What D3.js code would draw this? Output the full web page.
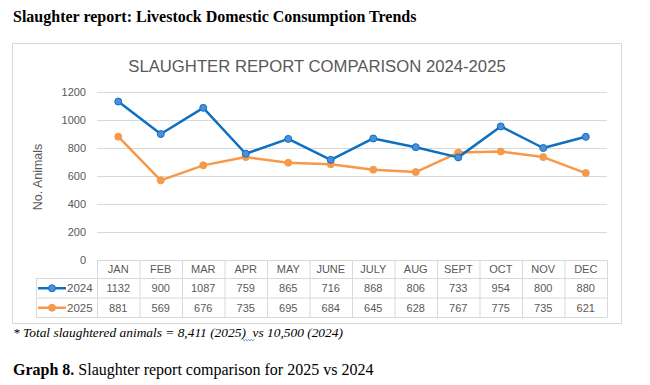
<!DOCTYPE html>
<html><head><meta charset="utf-8">
<script src="https://cdn.jsdelivr.net/npm/d3@7"></script>
<style>html,body{margin:0;padding:0;background:#fff;}</style>
</head><body>
<svg id="c" width="650" height="385"></svg>
<script>
const months = ["JAN","FEB","MAR","APR","MAY","JUNE","JULY","AUG","SEPT","OCT","NOV","DEC"];
const values2024 = [1132,900,1087,759,865,716,868,806,733,954,800,880];
const values2025 = [881,569,676,735,695,684,645,628,767,775,735,621];
const seriesNames = ["2024","2025"];
const yTicks = [0,200,400,600,800,1000,1200];
const docTitle = "Slaughter report: Livestock Domestic Consumption Trends";
const chartTitle = "SLAUGHTER REPORT COMPARISON 2024-2025";
const yLabel = "No. Animals";
const footnote = "* Total slaughtered animals = 8,411 (2025)  vs 10,500 (2024)";

const svg = d3.select("#c");
const gray = "#595959", grid = "#d9d9d9";
const colors = {"2024": {line:"#0f6fc1", fill:"#4a8fd8"}, "2025": {line:"#f6994a", fill:"#f6994a"}};
const sans = "'Liberation Sans', Arial, sans-serif";
const serif = "'Liberation Serif', 'Times New Roman', serif";

// doc title
svg.append("text").attr("x",13).attr("y",22).attr("font-family",serif).attr("font-weight","bold")
  .attr("font-size",16).attr("fill","#000").text(docTitle);

// chart frame
svg.append("rect").attr("x",12.5).attr("y",43.5).attr("width",609).attr("height",280)
  .attr("fill","#fff").attr("stroke","#d9d9d9");

svg.append("text").attr("x",317).attr("y",72).attr("text-anchor","middle").attr("font-family",sans)
  .attr("font-size",16.7).attr("fill",gray).text(chartTitle);

const x0 = 97, x1 = 607;
const x = d3.scaleBand().domain(months).range([x0,x1]).padding(0);
const y = d3.scaleLinear().domain([0,1200]).range([260,92]);

// grid
svg.append("g").selectAll("line").data(yTicks.filter(d=>d>0)).join("line")
  .attr("x1",x0).attr("x2",x1).attr("y1",d=>Math.round(y(d))+0.5).attr("y2",d=>Math.round(y(d))+0.5)
  .attr("stroke",grid).attr("stroke-width",1);

// y axis labels
const ya = svg.append("g").attr("transform",`translate(${x0},0)`)
  .call(d3.axisLeft(y).tickValues(yTicks).tickFormat(d3.format("d")).tickSize(0).tickPadding(11));
ya.select(".domain").remove();
ya.selectAll("text").attr("font-family",sans).attr("font-size",11).attr("fill",gray);

svg.append("text").attr("transform","translate(42,177) rotate(-90)").attr("text-anchor","middle")
  .attr("font-family",sans).attr("font-size",12.5).attr("fill",gray).text(yLabel);

// data table
const rowY = [260, 278.5, 298, 317.5];
const tbl = svg.append("g").attr("stroke",grid).attr("stroke-width",1).attr("fill","none");
tbl.append("line").attr("x1",x0).attr("x2",x1).attr("y1",rowY[0]+0.5).attr("y2",rowY[0]+0.5);
[1,2,3].forEach(i=>tbl.append("line").attr("x1",36).attr("x2",x1).attr("y1",rowY[i]).attr("y2",rowY[i]));
const bounds = months.map(m=>x(m)).concat([x1]);
bounds.forEach(b=>tbl.append("line").attr("x1",b+0.5).attr("x2",b+0.5).attr("y1",rowY[0]).attr("y2",rowY[3]));
tbl.append("line").attr("x1",36.5).attr("x2",36.5).attr("y1",rowY[1]).attr("y2",rowY[3]);

const cx = m => x(m)+x.bandwidth()/2;
svg.append("g").selectAll("text").data(months).join("text")
  .attr("x",cx).attr("y",(rowY[0]+rowY[1])/2+4).attr("text-anchor","middle")
  .attr("font-family",sans).attr("font-size",11).attr("fill",gray).text(d=>d);

const seriesData = {"2024": values2024, "2025": values2025};
seriesNames.forEach((s,i)=>{
  const yy = (rowY[i+1]+rowY[i+2])/2;
  svg.append("g").selectAll("text").data(seriesData[s]).join("text")
    .attr("x",(d,j)=>cx(months[j])).attr("y",yy+4).attr("text-anchor","middle")
    .attr("font-family",sans).attr("font-size",11).attr("fill",gray).text(d=>d);
  svg.append("line").attr("x1",38).attr("x2",66).attr("y1",yy).attr("y2",yy)
    .attr("stroke",colors[s].line).attr("stroke-width",2.5);
  svg.append("circle").attr("cx",52).attr("cy",yy).attr("r",3.5)
    .attr("fill",colors[s].fill).attr("stroke",colors[s].line).attr("stroke-width",1);
  svg.append("text").attr("x",67).attr("y",yy+4).attr("font-family",sans).attr("font-size",11.5)
    .attr("fill",gray).text(s);
});

// lines
const line = d3.line().x((d,j)=>cx(months[j])).y(d=>y(d));
seriesNames.slice().reverse().forEach(s=>{
  svg.append("path").datum(seriesData[s]).attr("d",line).attr("fill","none")
    .attr("stroke",colors[s].line).attr("stroke-width",2.5).attr("stroke-linejoin","round");
  svg.append("g").selectAll("circle").data(seriesData[s]).join("circle")
    .attr("cx",(d,j)=>cx(months[j])).attr("cy",d=>y(d)).attr("r",3.5)
    .attr("fill",colors[s].fill).attr("stroke",colors[s].line).attr("stroke-width",1);
});

// footnote
svg.append("text").attr("x",13).attr("y",337).attr("font-family",serif).attr("font-style","italic")
  .attr("font-size",13.4).attr("fill","#000").style("white-space","pre").text(footnote);
let wp = "M243,339.5";
for(let k=0;k<8;k++){ wp += ` l1.4,${k%2?-1.2:1.2}`; }
svg.append("path").attr("d",wp).attr("fill","none").attr("stroke","#3c6fd6").attr("stroke-width",0.8);

// caption
const cap = svg.append("text").attr("x",13).attr("y",375).attr("font-family",serif).attr("font-size",16).attr("fill","#000");
cap.append("tspan").attr("font-weight","bold").text("Graph 8.");
cap.append("tspan").text(" Slaughter report comparison for 2025 vs 2024");
</script>
</body></html>
